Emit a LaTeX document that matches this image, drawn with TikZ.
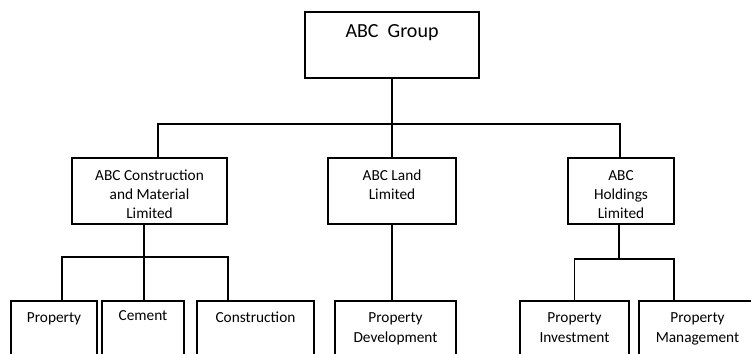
\documentclass[tikz,border=0pt]{standalone}
\usepackage{fontspec}
\setmainfont{Carlito}
\newlength{\px}
\setlength{\px}{0.75pt}
% box text: width, height, first baseline, lines
\newcommand{\boxtext}[4]{\parbox[c][#2][t]{#1}{\centering\rule{0pt}{#3}#4}}
\tikzset{
  unit/.style={draw, line width=0.8pt, inner sep=0pt, font=\fontsize{11.5pt}{14.25pt}\selectfont},
  head/.style={unit, font=\fontsize{15pt}{18pt}\selectfont},
  leaf/.style={unit, font=\fontsize{11.5pt}{15pt}\selectfont},
  link/.style={line width=0.8pt}
}
\begin{document}
\begin{tikzpicture}[x=0.75pt,y=-0.75pt]
        \useasboundingbox (0,0) rectangle (751,354);
        \node[head] (group) at (392,45)  {\boxtext{174\px}{66\px}{25\px}{ABC\ \ Group}};
        \node[unit] (cmc)   at (149.5,191) {\boxtext{155\px}{66\px}{22\px}{ABC Construction\\and Material\\Limited}};
        \node[unit] (land)  at (392,191) {\boxtext{128\px}{66\px}{22\px}{ABC Land\\Limited}};
        \node[unit] (hold)  at (621,191) {\boxtext{106\px}{66\px}{22\px}{ABC\\Holdings\\Limited}};
        \node[leaf] (prop)  at (54,331)    {\boxtext{86\px}{60\px}{21\px}{Property}};
        \node[leaf] (cem)   at (143,331)   {\boxtext{82\px}{60\px}{19\px}{Cement}};
        \node[leaf] (cons)  at (255.5,331) {\boxtext{117\px}{60\px}{21\px}{Construction}};
        \node[leaf] (pdev)  at (395.5,331) {\boxtext{121\px}{60\px}{21\px}{Property\\Development}};
        \node[leaf] (pinv)  at (574.5,331) {\boxtext{109\px}{60\px}{21\px}{Property\\Investment}};
        \node[leaf] (pman)  at (697.5,331) {\boxtext{117\px}{60\px}{21\px}{Property\\Management}};
        \coordinate (bus)  at (392,124);
        \coordinate (cbus) at (144,257);
        \coordinate (hbus) at (619,259);
        % top level
        \draw[link] (group.south) -- (land.north);
        \draw[link] ([xshift=8.5\px]cmc.north) |- (bus) -| ([xshift=-1\px]hold.north);
        % construction and material
        \draw[link] ([xshift=-5.5\px]cmc.south) -- ([xshift=1\px]cem.north);
        \draw[link] ([xshift=8\px]prop.north) |- (cbus) -| ([xshift=-27.5\px]cons.north);
        % land
        \draw[link] (land.south) -- ([xshift=-3.5\px]pdev.north);
        % holdings
        \draw[link] ([xshift=-2\px]hold.south) -- (hbus);
        \draw[link] (pinv.north) |- (hbus) -| ([xshift=-23.5\px]pman.north);
      \end{tikzpicture}
\end{document}
